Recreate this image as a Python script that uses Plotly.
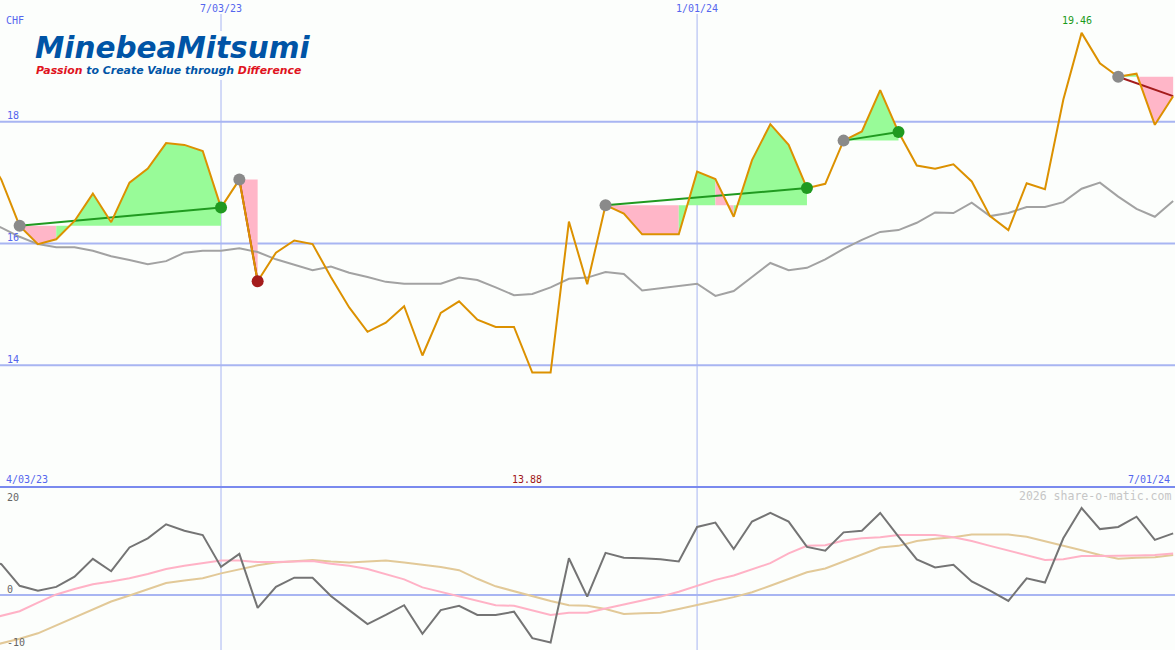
import plotly.graph_objects as go
import pandas as pd

# ---------------- data ----------------
dates = pd.date_range("2023-04-03", periods=66, freq="7D")

price = [17.54, 17.05, 16.29, 15.99, 16.07, 16.37, 16.82, 16.35, 17.00, 17.23,
         17.65, 17.62, 17.52, 16.59, 17.05, 15.38, 15.85, 16.05, 15.99, 15.45,
         14.95, 14.55, 14.70, 14.97, 14.16, 14.86, 15.05, 14.75, 14.63, 14.63,
         13.88, 13.88, 16.36, 15.33, 16.63, 16.49, 16.15, 16.15, 16.15, 17.18,
         17.06, 16.44, 17.37, 17.96, 17.62, 16.91, 16.98, 17.69, 17.84, 18.52,
         17.83, 17.28, 17.23, 17.30, 17.02, 16.45, 16.22, 16.99, 16.89, 18.36,
         19.46, 18.96, 18.74, 18.79, 17.95, 18.42]

average = [16.39, 16.26, 16.11, 15.99, 15.94, 15.94, 15.88, 15.79, 15.73, 15.66,
           15.71, 15.85, 15.88, 15.88, 15.92, 15.86, 15.74, 15.65, 15.56, 15.62,
           15.52, 15.45, 15.37, 15.34, 15.34, 15.34, 15.44, 15.40, 15.28, 15.15,
           15.17, 15.28, 15.42, 15.44, 15.53, 15.50, 15.23, 15.27, 15.30, 15.34,
           15.14, 15.22, 15.45, 15.68, 15.56, 15.60, 15.74, 15.91, 16.06, 16.19,
           16.22, 16.34, 16.51, 16.50, 16.67, 16.45, 16.50, 16.60, 16.60, 16.68,
           16.90, 17.00, 16.77, 16.57, 16.44, 16.70]

momentum = [7.0, 5.7, 1.7, 0.8, 1.5, 3.4, 6.7, 4.4, 8.8, 10.5,
            13.1, 11.9, 11.1, 5.2, 7.6, -2.4, 1.5, 3.2, 3.2, -0.2,
            -2.8, -5.4, -3.7, -1.9, -7.2, -2.8, -2.0, -3.7, -3.7, -3.1,
            -8.0, -8.8, 6.8, -0.3, 7.8, 6.9, 6.8, 6.6, 6.2, 12.6,
            13.4, 8.5, 13.6, 15.2, 13.6, 8.9, 8.2, 11.6, 11.9, 15.2,
            10.8, 6.6, 5.1, 5.6, 2.5, 0.8, -1.1, 3.1, 2.3, 10.5,
            16.1, 12.2, 12.6, 14.5, 10.2, 11.4]

momentum_fast = [-4.7, -3.9, -3.0, -1.4, 0.1, 1.1, 2.0, 2.5, 3.1, 3.9,
                 4.8, 5.4, 5.9, 6.4, 6.4, 6.1, 6.1, 6.2, 6.3, 5.8,
                 5.4, 4.8, 3.9, 2.9, 1.4, 0.6, -0.2, -1.0, -1.9, -2.0,
                 -2.8, -3.7, -3.3, -3.3, -2.5, -1.8, -1.0, -0.3, 0.6, 1.7,
                 2.8, 3.6, 4.7, 5.9, 7.7, 9.1, 9.2, 10.1, 10.5, 10.7,
                 11.1, 11.1, 11.1, 10.7, 10.0, 9.1, 8.2, 7.3, 6.5, 6.6,
                 7.2, 7.2, 7.2, 7.3, 7.4, 7.7]

momentum_slow = [-9.8, -9.0, -8.1, -7.1, -5.6, -4.2, -2.6, -1.2, -0.1, 1.1,
                 2.2, 2.7, 3.1, 4.0, 4.7, 5.5, 6.0, 6.3, 6.5, 6.2,
                 6.0, 6.2, 6.4, 6.0, 5.6, 5.2, 4.6, 3.0, 1.6, 0.7,
                 -0.3, -1.1, -1.9, -2.0, -2.6, -3.5, -3.4, -3.3, -2.6, -1.8,
                 -1.1, -0.4, 0.5, 1.7, 3.0, 4.2, 4.9, 6.2, 7.5, 8.8,
                 9.1, 10.0, 10.4, 10.7, 11.2, 11.2, 11.2, 10.8, 10.0, 9.2,
                 8.3, 7.4, 6.7, 6.9, 7.0, 7.4]

trade_entry = [2, 14, 34, 47, 62]
trade_exit = [13, 15, 45, 50, 65]
trade_closed = [True, True, True, True, False]

top_ticks = [14, 16, 18]
top_tick_labels = ["14", "16", "18"]
bottom_ticks = [20, 0, -10]
bottom_tick_labels = ["20", "0", "-10"]
grid_dates = ["2023-07-03", "2024-01-01"]
grid_date_labels = ["7/03/23", "1/01/24"]
first_label = "4/03/23"
last_label = "7/01/24"
currency = "CHF"

# ---------------- styles ----------------
W, H = 1175, 650
BG = "#fcfefc"
GRID = "#a8b5f2"
SEP = "#7a8aee"
BLUE_TXT = "#5566ee"
ORANGE = "#dc9100"
AVG_GRAY = "#a2a2a2"
MOM_GRAY = "#747474"
PINK_LINE = "#ffb2c6"
TAN_LINE = "#e2c998"
GREEN_FILL = "#98fb98"
PINK_FILL = "#ffb6c8"
GREEN = "#209a20"
RED = "#a41c1c"
MONO = "DejaVu Sans Mono"

split = 163 / H  # bottom panel height fraction

fig = go.Figure()

# ---- trade fills (per segment, coloured by the sign at the segment end) ----
for i0, i1 in zip(trade_entry, trade_exit):
    E = price[i0]
    groups = []
    for k in range(i0, i1):
        col = GREEN_FILL if price[k + 1] >= E else PINK_FILL
        if groups and groups[-1][0] == col:
            groups[-1][2] = k + 1
        else:
            groups.append([col, k, k + 1])
    for col, a, b in groups:
        xs = [dates[a]] + list(dates[a:b + 1]) + [dates[b]]
        ys = [E] + price[a:b + 1] + [E]
        fig.add_trace(go.Scatter(x=xs, y=ys, mode="lines", fill="toself",
                                 fillcolor=col, line=dict(width=0, color=col),
                                 xaxis="x", yaxis="y", hoverinfo="skip"))

# ---- moving average ----
fig.add_trace(go.Scatter(x=dates, y=average, mode="lines",
                         line=dict(color=AVG_GRAY, width=2), xaxis="x", yaxis="y"))

# ---- trade lines (below the price line) ----
trade_cols = []
for i0, i1 in zip(trade_entry, trade_exit):
    col = GREEN if price[i1] >= price[i0] else RED
    trade_cols.append(col)
    fig.add_trace(go.Scatter(x=[dates[i0], dates[i1]], y=[price[i0], price[i1]],
                             mode="lines", line=dict(color=col, width=2),
                             xaxis="x", yaxis="y"))

# ---- price ----
fig.add_trace(go.Scatter(x=dates, y=price, mode="lines",
                         line=dict(color=ORANGE, width=2), xaxis="x", yaxis="y"))

# ---- trade markers ----
for i0, i1, closed, col in zip(trade_entry, trade_exit, trade_closed, trade_cols):
    fig.add_trace(go.Scatter(x=[dates[i0]], y=[price[i0]], mode="markers",
                             marker=dict(color="#8a8a8a", size=12, line=dict(width=0)),
                             xaxis="x", yaxis="y"))
    if closed:
        fig.add_trace(go.Scatter(x=[dates[i1]], y=[price[i1]], mode="markers",
                                 marker=dict(color=col, size=12, line=dict(width=0)),
                                 xaxis="x", yaxis="y"))

# ---- bottom panel ----
fig.add_trace(go.Scatter(x=dates, y=momentum_slow, mode="lines",
                         line=dict(color=TAN_LINE, width=2), xaxis="x2", yaxis="y2"))
fig.add_trace(go.Scatter(x=dates, y=momentum_fast, mode="lines",
                         line=dict(color=PINK_LINE, width=2), xaxis="x2", yaxis="y2"))
fig.add_trace(go.Scatter(x=dates, y=momentum, mode="lines",
                         line=dict(color=MOM_GRAY, width=2), xaxis="x2", yaxis="y2"))

# ---------------- shapes ----------------
shapes = []
for d in grid_dates:
    shapes.append(dict(type="line", xref="x", yref="paper", x0=d, x1=d,
                       y0=0, y1=1 - 14 / H, line=dict(color=GRID, width=1), layer="below"))
for t in top_ticks:
    shapes.append(dict(type="line", xref="paper", yref="y", x0=0, x1=1, y0=t, y1=t,
                       line=dict(color=GRID, width=2), layer="below"))
shapes.append(dict(type="line", xref="paper", yref="y2", x0=0, x1=1, y0=0, y1=0,
                   line=dict(color=GRID, width=2), layer="below"))
shapes.append(dict(type="line", xref="paper", yref="paper", x0=0, x1=1, y0=split, y1=split,
                   line=dict(color=SEP, width=2), layer="below"))
# logo background box
shapes.append(dict(type="rect", xref="paper", yref="paper",
                   x0=30 / W, x1=312 / W, y0=1 - 80 / H, y1=1 - 31 / H,
                   fillcolor=BG, line=dict(width=0), layer="below"))


# ---------------- annotations ----------------
def ann(text, x, y, xanchor="left", color=BLUE_TXT, size=10, family=MONO, xref="paper"):
    return dict(text=text, x=(x / W if xref == "paper" else x), y=1 - y / H,
                xref=xref, yref="paper", xanchor=xanchor, yanchor="middle",
                showarrow=False, font=dict(family=family, size=size, color=color),
                borderpad=0)


annotations = [ann(currency, 5, 20)]
for t, lab in zip(top_ticks, top_tick_labels):
    y_px = (20 - t) / 8 * (H - 163) - 6
    annotations.append(ann(lab, 6, y_px))
for d, lab in zip(grid_dates, grid_date_labels):
    annotations.append(ann(lab, d, 8, xanchor="center", xref="x"))
annotations.append(ann(first_label, 5, 479))
annotations.append(ann(last_label, 1171, 479, xanchor="right"))
annotations.append(ann(f"{min(price):.2f}", 527, 479, xanchor="center", color="#a01818"))
annotations.append(ann(f"{max(price):.2f}", 1077, 21, xanchor="center", color="#1a9a1a"))
annotations.append(ann("2026 share-o-matic.com", 1172, 496, xanchor="right",
                       color="#c6c6c6", size=11.5))
for lab, ypx in zip(bottom_tick_labels, [497, 589, 642]):
    annotations.append(ann(lab, 6, ypx, color="#666666"))

# logo
annotations.append(ann("<b><i>MinebeaMitsumi</i></b>", 34, 48, color="#0054a6",
                       size=29.5, family="DejaVu Sans"))
annotations.append(ann("<b><i><span style='color:#e0141e'>Passion</span> to Create Value "
                       "through <span style='color:#e0141e'>Difference</span></i></b>",
                       35, 70.5, color="#0054a6", size=10.9, family="DejaVu Sans"))

x_range = ["2023-04-09 12:00", "2024-07-01 17:00"]

fig.update_layout(
    width=W, height=H,
    margin=dict(l=0, r=0, t=0, b=0),
    paper_bgcolor=BG, plot_bgcolor=BG,
    showlegend=False, hovermode=False,
    xaxis=dict(domain=[0, 1], range=x_range, anchor="y", showgrid=False,
               zeroline=False, showticklabels=False, ticks="", showline=False),
    xaxis2=dict(domain=[0, 1], range=x_range, anchor="y2", matches="x", showgrid=False,
                zeroline=False, showticklabels=False, ticks="", showline=False),
    yaxis=dict(domain=[split, 1], range=[12, 20], showgrid=False, zeroline=False,
               showticklabels=False, ticks="", showline=False),
    yaxis2=dict(domain=[0, split], range=[-10.19, 20], showgrid=False, zeroline=False,
                showticklabels=False, ticks="", showline=False),
    shapes=shapes,
    annotations=annotations,
)

fig.write_html("out.html", config={"displayModeBar": False},
               post_script="document.body.style.margin='0';document.body.style.overflow='hidden';"
                           "document.body.style.background='" + BG + "';")
